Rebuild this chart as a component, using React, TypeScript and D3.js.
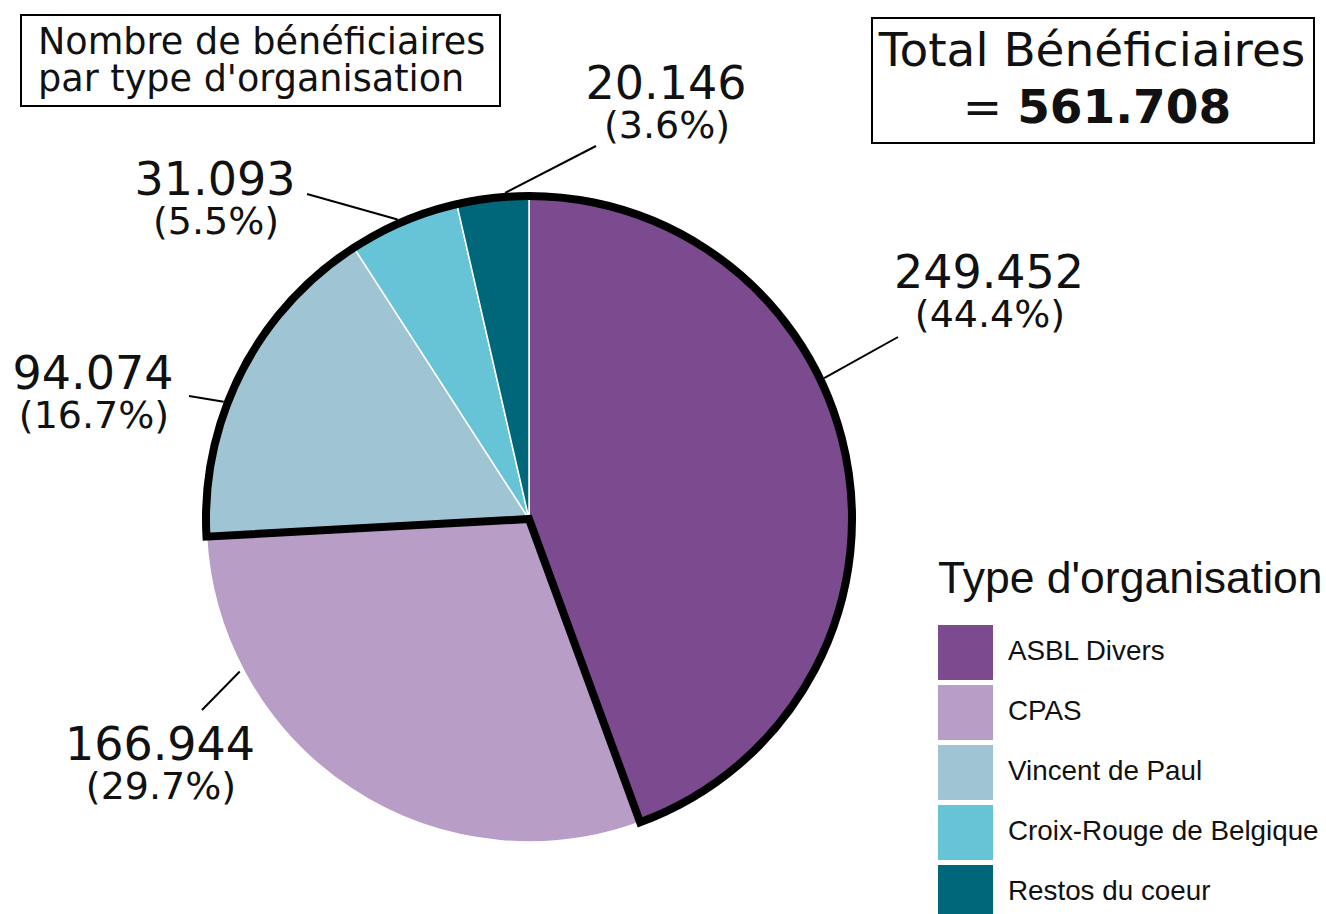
import React from "react";
import * as d3 from "d3";

const categories = ["ASBL Divers", "CPAS", "Vincent de Paul", "Croix-Rouge de Belgique", "Restos du coeur"];
const values = [249452, 166944, 94074, 31093, 20146];
const colors = ["#7B4A8F", "#B89DC6", "#9FC5D4", "#67C4D6", "#00677A"];
const totalValue = 561708;

// label layout (annotation placement)
const leaderAngleDeg = [64.5, 242.2, 291, 336.3, 355.8];
const labelPos: [number, number][] = [[989, 288], [160, 760], [93, 389], [215, 195], [666, 99]];
const leaderEnd: [number, number][] = [[898, 337], [202, 710], [189, 396], [307, 194], [596, 146]];

const W = 1326, H = 914;
const cx = 529, cy = 519, R = 323;

const locale = d3.formatLocale({ decimal: ",", thousands: ".", grouping: [3], currency: ["", "€"] });
const fmt = locale.format(",d");

export default function App() {
  const data = values.map((v, i) => ({ v, i }));
  const pie = d3.pie<{ v: number; i: number }>().sort(null).value(d => d.v).startAngle(0).endAngle(2 * Math.PI);
  const arcs = pie(data);
  const arc = d3.arc<d3.PieArcDatum<{ v: number; i: number }>>().innerRadius(0).outerRadius(R);
  const sum = d3.sum(values);
  const outline = d3.arc()({
    innerRadius: 0,
    outerRadius: R,
    startAngle: arcs[1].endAngle,
    endAngle: 2 * Math.PI + arcs[0].endAngle,
  } as any);

  const dv = "'DejaVu Sans', Verdana, sans-serif";
  const ls = "'Liberation Sans', Arial, sans-serif";

  return (
    <svg width={W} height={H} style={{ position: "absolute", left: 0, top: 0, background: "#fff" }}>
      <g transform={`translate(${cx},${cy})`}>
        {arcs.map(a => (
          <path key={a.data.i} d={arc(a) || ""} fill={colors[a.data.i]} stroke="#fff" strokeWidth={1.5} />
        ))}
        <path d={outline || ""} fill="none" stroke="#000" strokeWidth={8} strokeLinejoin="miter" />
      </g>
      {values.map((v, i) => {
        const ang = (leaderAngleDeg[i] * Math.PI) / 180;
        const r0 = R + 4;
        const x0 = cx + r0 * Math.sin(ang);
        const y0 = cy - r0 * Math.cos(ang);
        const [lx, ly] = labelPos[i];
        const [ex, ey] = leaderEnd[i];
        return (
          <g key={i}>
            <line x1={x0} y1={y0} x2={ex} y2={ey} stroke="#000" strokeWidth={2} />
            <text x={lx} y={ly} textAnchor="middle" fontFamily={dv} fontSize={46} fill="#111">
              {fmt(v)}
            </text>
            <text x={lx + 1} y={ly + 39} textAnchor="middle" fontFamily={dv} fontSize={38} fill="#111">
              {`(${((v / sum) * 100).toFixed(1)}%)`}
            </text>
          </g>
        );
      })}

      {/* title box */}
      <rect x={21} y={15} width={479} height={91} fill="#fff" stroke="#000" strokeWidth={2} />
      <text x={38} y={54} fontFamily={dv} fontSize={36.6} fill="#111">Nombre de bénéficiaires</text>
      <text x={38} y={91} fontFamily={dv} fontSize={36.6} fill="#111">par type d'organisation</text>

      {/* total box */}
      <rect x={872} y={18} width={442} height={125} fill="#fff" stroke="#000" strokeWidth={2} />
      <text x={1092} y={66} textAnchor="middle" fontFamily={dv} fontSize={47} fill="#111">Total Bénéficiaires</text>
      <text x={1097} y={123} textAnchor="middle" fontFamily={dv} fontSize={47} fill="#111">
        {"= "}
        <tspan fontWeight="bold">{fmt(totalValue)}</tspan>
      </text>

      {/* legend */}
      <text x={938} y={593} fontFamily={ls} fontSize={44.5} fill="#111">Type d'organisation</text>
      {categories.map((c, i) => (
        <g key={c}>
          <rect x={938} y={625 + i * 60} width={55} height={55} fill={colors[i]} />
          <text x={1008} y={660 + i * 60} fontFamily={ls} fontSize={27.8} fill="#111">{c}</text>
        </g>
      ))}
    </svg>
  );
}
